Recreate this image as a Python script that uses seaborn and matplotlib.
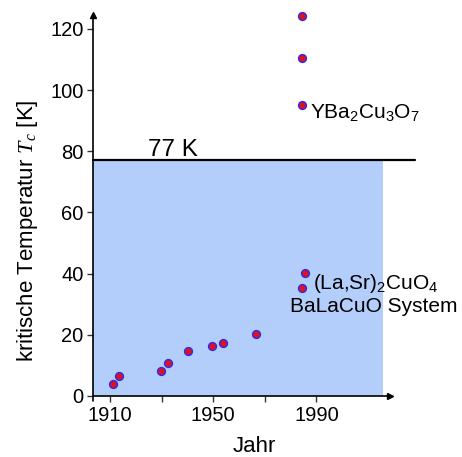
import matplotlib
matplotlib.use("Agg")
import matplotlib.pyplot as plt
import numpy as np
import seaborn as sns

# discovery year and critical temperature (K)
years = [1911.0, 1913.6, 1929.7, 1932.4, 1940.1, 1949.7, 1953.8, 1966.5,
         1984.3, 1985.7, 1984.5, 1984.5, 1984.5]
tc = [3.8, 6.5, 8.1, 10.9, 14.6, 16.3, 17.3, 20.3,
      35.3, 40.1, 95.0, 110.3, 124.3]

x_ticks = [1910, 1930, 1950, 1970, 1990]
x_ticklabels = ["1910", "", "1950", "", "1990"]
y_ticks = [0, 20, 40, 60, 80, 100, 120]

nitrogen_temp = 77
blue_span = [1903.5, 2015.7]
line_span = [1903.5, 2028.2]

sns.set_theme(style="white")
plt.rcParams["font.family"] = ["Liberation Sans", "DejaVu Sans"]
plt.rcParams["mathtext.fontset"] = "custom"
plt.rcParams["mathtext.rm"] = "Liberation Sans"
plt.rcParams["mathtext.it"] = "Liberation Serif:italic"
plt.rcParams["text.color"] = "black"
plt.rcParams["axes.labelcolor"] = "black"

fig = plt.figure(figsize=(4.62, 4.57), dpi=100)
ax = fig.add_axes([0.2017, 0.1335, 0.7065, 0.8403])
ax.set_xlim(1903.5, 2030)
ax.set_ylim(0, 125.5)

# liquid nitrogen region and line
ax.fill_between(blue_span, 0, nitrogen_temp, color="#b3cefa", lw=0, zorder=0)
ax.plot(line_span, [nitrogen_temp, nitrogen_temp], color="black", lw=1.6,
        clip_on=False, zorder=2)
ax.text(1924.7, 78.3, "77 K", fontsize=17.5, va="baseline", ha="left")

sns.scatterplot(x=years, y=tc, ax=ax, color="#e0101e", edgecolor="#2a2af0",
                linewidth=1.0, s=32, zorder=4, clip_on=False)

ax.text(1987.5, 91.0, r"YBa$_2$Cu$_3$O$_7$", fontsize=15, va="baseline")
ax.text(1988.8, 34.9, r"(La,Sr)$_2$CuO$_4$", fontsize=15, va="baseline")
ax.text(1979.8, 27.5, "BaLaCuO System", fontsize=15, va="baseline")

# hand-drawn axes with arrow heads
for s in ax.spines.values():
    s.set_visible(False)
ax.plot([1903.5, 2018.5], [0, 0], color="black", lw=1.2, clip_on=False, zorder=3)
ax.plot([1903.5, 1903.5], [-1.5, 124.5], color="black", lw=1.2, clip_on=False, zorder=3)
ax.plot(2018.5, 0, marker=">", ms=5, color="black", clip_on=False, zorder=3)
ax.plot(1903.5, 124.5, marker="^", ms=5, color="black", clip_on=False, zorder=3)

ax.set_xticks(x_ticks)
ax.set_xticklabels(x_ticklabels)
ax.set_yticks(y_ticks)
ax.tick_params(axis="both", direction="out", length=4.5, width=1,
               color="#333333", labelsize=14.5, pad=2.5, labelcolor="black")
ax.tick_params(axis="x", bottom=True)
ax.tick_params(axis="y", left=True)

ax.set_xlabel("Jahr", fontsize=16)
ax.xaxis.label.set_va("baseline")
ax.xaxis.set_label_coords(0.4927, -0.145)
ax.set_ylabel(r"kritische Temperatur $T_c$ [K]", fontsize=16)
ax.yaxis.set_label_coords(-0.164, 0.43)

fig.savefig("out.png", dpi=100)
